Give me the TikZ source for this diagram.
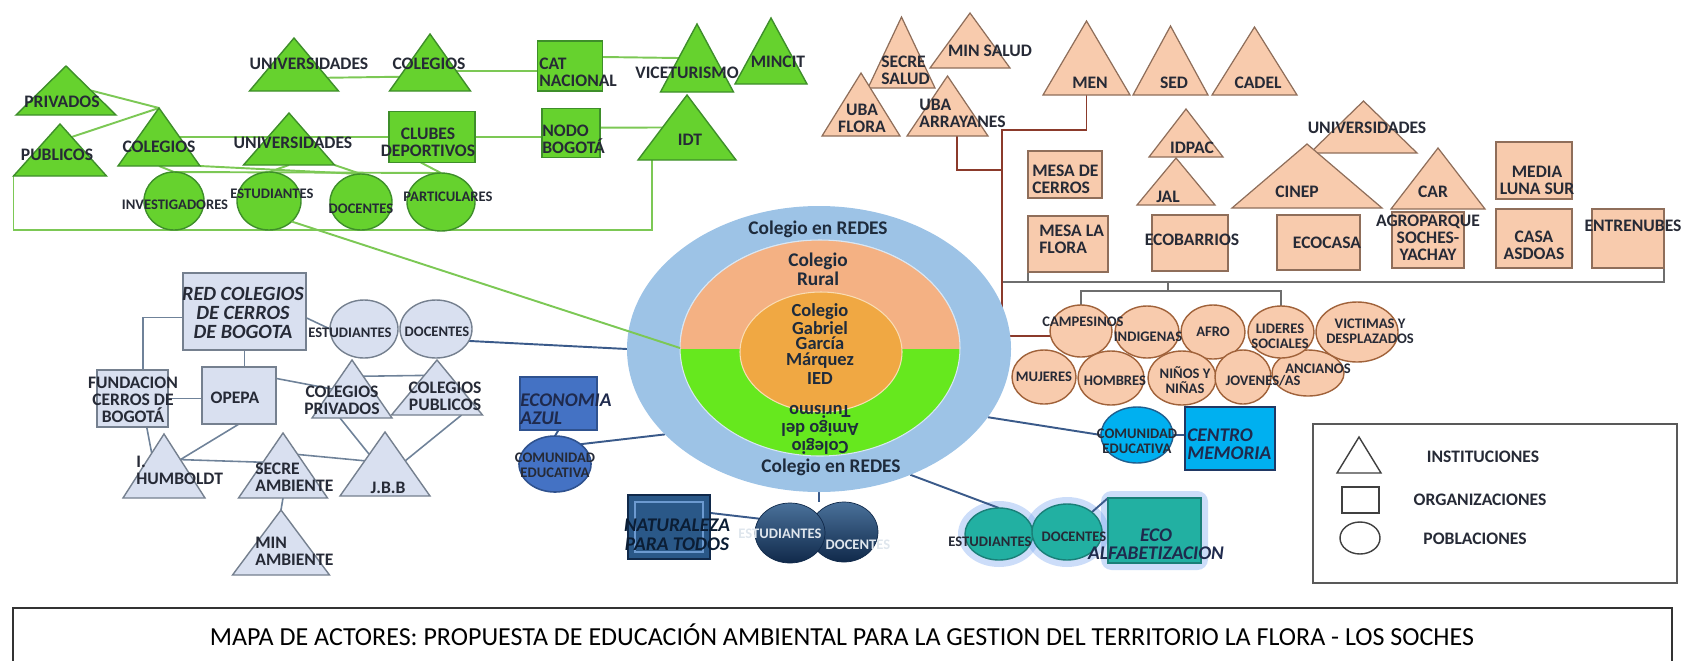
\documentclass[tikz,border=0pt]{standalone}
\usepackage{fontspec}
\setmainfont{Carlito}
\usetikzlibrary{shapes.geometric,calc,backgrounds}

\definecolor{gfill}{HTML}{66D22E}
\definecolor{gdraw}{HTML}{3E8E2A}
\definecolor{glc}{HTML}{7CC855}
\definecolor{pfill}{HTML}{F8CBAD}
\definecolor{pdraw}{HTML}{8F6E5A}
\definecolor{popdraw}{HTML}{A0623A}
\definecolor{brc}{HTML}{8B3A2B}
\definecolor{grc}{HTML}{6E6E6E}
\definecolor{lbfill}{HTML}{D9E0F0}
\definecolor{lbdraw}{HTML}{75808F}
\definecolor{llc}{HTML}{6F8299}
\definecolor{blc}{HTML}{3A5A8A}
\definecolor{outc}{HTML}{9DC3E6}
\definecolor{midt}{HTML}{F4B183}
\definecolor{midb}{HTML}{66E81E}
\definecolor{innc}{HTML}{F0A843}
\definecolor{dbf}{HTML}{4472C4}
\definecolor{dbd}{HTML}{2F528F}
\definecolor{navyf}{HTML}{2A5888}
\definecolor{navyd}{HTML}{10294A}
\definecolor{natin}{HTML}{6C9AD0}
\definecolor{cyf}{HTML}{00B0F0}
\definecolor{cyd}{HTML}{1F5F8F}
\definecolor{cmd}{HTML}{203864}
\definecolor{tlf}{HTML}{22B0A2}
\definecolor{tld}{HTML}{1A7F78}
\definecolor{glowc}{HTML}{7FAAF0}
\definecolor{txt}{HTML}{262A36}
\definecolor{ctxt}{HTML}{1E2B3C}
\definecolor{navytxt}{HTML}{1F2A4D}

\begin{document}
\begin{tikzpicture}[x=0.2mm, y=-0.2mm,
  sz/.style 2 args={minimum width=#1*0.2mm, minimum height=#2*0.2mm, inner sep=0pt, outer sep=0pt},
  tri/.style={isosceles triangle, isosceles triangle stretches, shape border rotate=90, anchor=lower side},
  ell/.style={ellipse},
  gsh/.style={draw=gdraw, fill=gfill, line width=.8pt},
  psh/.style={draw=pdraw, fill=pfill, line width=.7pt},
  ppop/.style={ellipse, draw=popdraw, fill=pfill, line width=.8pt},
  lsh/.style={draw=lbdraw, fill=lbfill, line width=.8pt},
  tsh/.style={draw=tld, fill=tlf, line width=.8pt},
  lab/.style={align=center, inner sep=0pt, text=txt, font=\fontsize{10}{9.8}\selectfont\bfseries},
  slab/.style={lab, font=\fontsize{8.3}{8.6}\selectfont\bfseries},
  ilab/.style={lab, text=navytxt, font=\fontsize{11}{10.5}\selectfont\bfseries\itshape},
  clab/.style={lab, text=ctxt, font=\fontsize{11}{9.4}\selectfont\bfseries},
  leglab/.style={lab, font=\fontsize{10}{10}\selectfont\bfseries},
  gln/.style={draw=glc, line width=1.1pt},
  lln/.style={draw=llc, line width=.9pt},
  bln/.style={draw=blc, line width=1.1pt},
  brl/.style={draw=brc, line width=1.1pt},
  grl/.style={draw=grc, line width=1pt}]
\useasboundingbox (0,0) rectangle (1685,660);
\clip (0,0) rectangle (1685,660);

% centro
\node[ell, sz={384}{286}, fill=outc] (out) at (819,349) {};
\node[ell, sz={280}{216}, fill=midb, draw=white!60!outc, line width=.6pt] (mid) at (820,348) {};
\begin{scope}
\clip (mid.west) rectangle (mid.north -| mid.east);
\node[ell, sz={280}{216}, fill=midt, draw=white!60!outc, line width=.6pt] (midtop) at (mid.center) {};
\end{scope}
\node[ell, sz={162}{120}, fill=innc, draw=white!60!innc, line width=.6pt] (inn) at (821,352) {};

% verde
\node[tri, gsh, sz={100}{49}] (privados) at (66,115) {};
\node[tri, gsh, sz={93}{52}] (publicos) at (60,176) {};
\node[tri, gsh, sz={82}{58}] (colegA) at (159,166) {};
\node[tri, gsh, sz={89}{53}] (univA) at (294,91) {};
\node[tri, gsh, sz={81}{57}] (colegB) at (430,91) {};
\node[tri, gsh, sz={91}{52}] (univB) at (289,165) {};
\node[tri, gsh, sz={73}{68}] (vice) at (697,92) {};
\node[tri, gsh, sz={72}{66}] (mincit) at (771,84) {};
\node[tri, gsh, sz={98}{65}] (idt) at (687,160) {};
\node[gsh, sz={86}{51}] (clubes) at (432,137) {};
\node[gsh, sz={65}{50}] (cat) at (570,66) {};
\node[gsh, sz={58}{49}] (nodo) at (571,133) {};
\node[ell, gsh, sz={60}{58}] (invest) at (174,201) {};
\node[ell, gsh, sz={64}{58}] (estud) at (269,201) {};
\node[ell, gsh, sz={62}{56}] (docen) at (361,202) {};
\node[ell, gsh, sz={68}{58}] (partic) at (441,202) {};

% durazno
\node[tri, psh, sz={67}{71}] (secsal) at (901.5,88) {};
\node[tri, psh, sz={80}{55}] (minsal) at (970,68) {};
\node[tri, psh, sz={78}{63}] (ubaflo) at (861,136) {};
\node[tri, psh, sz={81}{60}] (ubaarr) at (947.5,136) {};
\node[tri, psh, sz={87}{74}] (men) at (1086.5,95) {};
\node[tri, psh, sz={75}{69}] (sed) at (1170.5,95) {};
\node[tri, psh, sz={85}{68}] (cadel) at (1254.5,95) {};
\node[tri, psh, sz={74}{48}] (idpac) at (1186,157) {};
\node[tri, psh, sz={78}{47}] (jal) at (1176,205) {};
\node[tri, psh, sz={107}{52}] (univC) at (1363.5,153) {};
\node[tri, psh, sz={150}{64}] (cinep) at (1307,208) {};
\node[tri, psh, sz={94}{61}] (car) at (1438,209) {};
\node[psh, sz={74}{47}] (mesacer) at (1065,174.5) {};
\node[psh, sz={80}{56}] (mesaflo) at (1068,244) {};
\node[psh, sz={76}{56}] (ecobar) at (1190,243) {};
\node[psh, sz={83}{55}] (ecocasa) at (1318.5,242.5) {};
\node[psh, sz={72}{56}] (agro) at (1428,240) {};
\node[psh, sz={76}{57}] (media) at (1534,170.5) {};
\node[psh, sz={76}{59}] (casa) at (1534,238.5) {};
\node[psh, sz={72}{59}] (entre) at (1628,238.5) {};
\node[ppop, sz={72}{46}] (anc) at (1308,373) {};
\node[ppop, sz={62}{52}] (camp) at (1081,331) {};
\node[ppop, sz={64}{52}] (indi) at (1147,332) {};
\node[ppop, sz={64}{54}] (afro) at (1213,332) {};
\node[ppop, sz={66}{52}] (lider) at (1281,332) {};
\node[ppop, sz={82}{60}] (vict) at (1357,332) {};
\node[ppop, sz={64}{54}] (muj) at (1044,377) {};
\node[ppop, sz={66}{54}] (hom) at (1111,378) {};
\node[ppop, sz={68}{54}] (nin) at (1182,378) {};
\node[ppop, sz={56}{54}] (jov) at (1243,377) {};

% azul claro
\node[lsh, sz={123}{77}] (redcol) at (244.5,311.5) {};
\node[lsh, sz={71}{57}] (fund) at (132.5,398.5) {};
\node[lsh, sz={74}{57}] (opepa) at (239,395.5) {};
\node[ell, lsh, sz={68}{58}] (lbest) at (364,329) {};
\node[ell, lsh, sz={72}{58}] (lbdoc) at (436,329) {};
\node[tri, lsh, sz={80}{58}] (colpriv) at (352,418) {};
\node[tri, lsh, sz={91}{55}] (colpub) at (437,415) {};
\node[tri, lsh, sz={82}{64}] (humb) at (164,498) {};
\node[tri, lsh, sz={89}{65}] (secre) at (283,498) {};
\node[tri, lsh, sz={90}{64}] (jbb) at (385,496) {};
\node[tri, lsh, sz={97}{65}] (minamb) at (281,575) {};

% redes
\node[draw=dbd, fill=dbf, line width=.9pt, sz={77}{53}] (ecoaz) at (558.5,403.5) {};
\node[ell, draw=dbd, fill=dbf, line width=.9pt, sz={72}{56}] (comd) at (555,464) {};
\node[draw=navyd, fill=navyf, line width=1pt, sz={82}{64}] (nat) at (669,527) {};
\node[draw=natin, line width=1.2pt, sz={68}{50}] (natin) at (nat.center) {};
\node[ell, draw=navyd, top color=navyf!85!white, bottom color=navyd, sz={68}{60}] (ndo) at (844,532) {};
\node[ell, draw=navyd, top color=navyf!85!white, bottom color=navyd, sz={70}{60}] (nst) at (790,533) {};
\node[ell, draw=cyd, fill=cyf, line width=.8pt, sz={72}{56}] (comc) at (1137,435) {};
\node[draw=cmd, fill=cyf, line width=1.2pt, sz={90}{63}] (cmem) at (1230,438.5) {};
\node[ell, tsh, sz={68}{52}] (tst) at (999,534) {};
\node[ell, tsh, sz={70}{56}] (tdo) at (1067,532) {};
\node[tsh, sz={93}{65}] (eco) at (1154.5,530.5) {};

% leyenda y titulo
\node[draw=black!65, line width=1pt, fill=white, sz={364}{159}] (legend) at (1495,503.5) {};
\node[tri, draw=black!75, fill=white, line width=.8pt, sz={44}{36}] (ltri) at (1359,473) {};
\node[draw=black!75, line width=.8pt, sz={37}{26}] (lsq) at (1360.5,500) {};
\node[ell, draw=black!75, line width=.8pt, sz={40}{32}] (lcir) at (1360,538) {};
\node[draw=black!80, line width=1.3pt, sz={1659}{70}, anchor=north west] (titbox) at (13,608) {};

\begin{scope}[on background layer]
\node[ell, sz={82}{66}, fill=glowc, opacity=.4] (tstg) at (tst.center) {};
\node[ell, sz={84}{70}, fill=glowc, opacity=.4] (tdog) at (tdo.center) {};
\node[sz={107}{79}, fill=glowc, opacity=.4, rounded corners=6pt] (ecog) at (eco.center) {};
\draw[gln] (privados.right side) -- (colegA.apex);
\draw[gln] ($(publicos.apex)!.25!(publicos.right corner)$) -- (colegA.apex);
\draw[gln] (colegA.right side) -- (colegA.right side -| clubes.west);
\draw[gln] ($(univA.apex)!.75!(univA.right corner)$) -- ($(colegB.apex)!.75!(colegB.left corner)$);
\draw[gln] ($(colegB.apex)!.65!(colegB.right corner)$) coordinate (cb) -- (cb -| cat.west);
\draw[gln] ($(cat.north east)!.32!(cat.south east)$) -- (vice.left side);
\draw[gln] (clubes.east) -- (clubes.east -| nodo.west);
\draw[gln] ($(nodo.north east)!.39!(nodo.south east)$) -- (idt.left side);
\draw[gln] (colegA.lower side) -- (invest.north);
\draw[gln] (colegA.right corner) -- (docen.north);
\draw[gln] (univB.lower side) -- (estud.north);
\draw[gln] (univB.right corner) -- (docen.north);
\draw[gln] ($(clubes.south west)!.37!(clubes.south east)$) -- (partic.north);
\draw[gln] (invest.north) -- (partic.north);
\coordinate (gcorner) at (652,230);
\draw[gln] (publicos.left corner) |- (gcorner) -- (gcorner |- idt.lower side);
\draw[lln] ($(redcol.north west)!.58!(redcol.south west)$) -| ($(fund.north west)!.65!(fund.north east)$);
\draw[lln] (redcol.south) -- (redcol.south |- opepa.north);
\draw[lln] ($(redcol.north east)!.58!(redcol.south east)$) -- (lbest.west);
\draw[lln] (fund.east) -- (fund.east -| opepa.west);
\draw[lln] ($(opepa.north east)!.2!(opepa.south east)$) -- (colpriv.left side);
\draw[lln] ($(colpriv.apex)!.28!(colpriv.right corner)$) -- ($(colpub.apex)!.28!(colpub.left corner)$);
\draw[lln] ($(fund.south west)!.7!(fund.south east)$) -- ($(humb.apex)!.3!(humb.left corner)$);
\draw[lln] (opepa.south) -- ($(humb.apex)!.4!(humb.right corner)$);
\draw[lln] ($(humb.apex)!.4!(humb.right corner)$) -- ($(secre.apex)!.45!(secre.left corner)$);
\draw[lln] ($(secre.apex)!.33!(secre.right corner)$) -- ($(jbb.apex)!.45!(jbb.left corner)$);
\draw[lln] ($(colpriv.left corner)!.35!(colpriv.right corner)$) -- ($(jbb.apex)!.35!(jbb.left corner)$);
\draw[lln] ($(colpub.left corner)!.77!(colpub.right corner)$) -- ($(jbb.apex)!.45!(jbb.right corner)$);
\draw[lln] (secre.lower side) -- (minamb.apex);
\coordinate (pk) at (1002,130);
\coordinate (pk2) at (1002,170);
\coordinate (gl) at (1002,282);
\coordinate (pj) at (1168,291);
\draw[grl] (gl) -| (entre.south east);
\draw[grl] (mesaflo.south west) -- (mesaflo.south west |- gl);
\draw[grl] (pj |- gl) -- (pj);
\draw[grl] (camp.north) |- (pj) -| (lider.north);
\draw[brl] (men.lower side) |- (pk) |- (mid.5);
\draw[brl] (mid.5) -- (mid.5 -| camp.west);
\draw[brl] ($(ubaarr.left corner)!.62!(ubaarr.right corner)$) |- (pk2);
\draw[bln] (lbdoc.-20) -- (out.west);
\draw[bln] (out.-22) -- (comc.west);
\draw[bln] (comc.east) -- (comc.east -| cmem.west);
\draw[bln] (out.-54) -- (tst.north);
\draw[bln] (tdo.north east) -- (eco.north west);
\draw[bln] (ecoaz.south) -- (comd.north);
\draw[bln] (comd.north east) -- (out.-151);
\draw[bln] ($(nat.north east)!.28!(nat.south east)$) -- (nst.155);
\draw[bln] (out.south) -- (out.south |- ndo.north);
\end{scope}
\draw[gln] (estud.south east) -- (mid.west);

% textos
\node[clab] (redesA) at (818,229) {Colegio en REDES};
\node[clab] (redesB) at (831,467) {Colegio en REDES};
\node[clab] (rural) at (818,269) {Colegio\\Rural};
\node[clab, font=\fontsize{10.5}{8.9}\selectfont\bfseries] (ggm) at (820,336) {Colegio\\Gabriel\\García\\Márquez};
\node[clab, font=\fontsize{10.5}{8.9}\selectfont\bfseries] (ied) at (820,379) {IED};
\node[clab, font=\fontsize{10.5}{8.9}\selectfont\bfseries, rotate=180] (amigo) at (820,430) {Colegio\\Amigo del\\Turismo};

\node[lab] (lprivados) at (62,102) {PRIVADOS};
\node[lab] (lpublicos) at (57,155) {PUBLICOS};
\node[lab] (lcolegA) at (159,147) {COLEGIOS};
\node[lab] (lunivA) at (309,64) {UNIVERSIDADES};
\node[lab] (lcolegB) at (429,64) {COLEGIOS};
\node[lab] (lunivB) at (293,143) {UNIVERSIDADES};
\node[lab] (lclubes) at (428,142) {CLUBES\\DEPORTIVOS};
\node[lab, align=left, anchor=west] (lcat) at (539,72) {CAT\\NACIONAL};
\node[lab, align=left, anchor=west] (lnodo) at (542,139) {NODO\\BOGOTÁ};
\node[lab] (lvice) at (687,73) {VICETURISMO};
\node[lab] (lmincit) at (778,62) {MINCIT};
\node[lab] (lidt) at (690,140) {IDT};
\node[slab] (linvest) at (175,205) {INVESTIGADORES};
\node[slab] (lestud) at (272,194) {ESTUDIANTES};
\node[slab] (ldocen) at (361,209) {DOCENTES};
\node[slab] (lpartic) at (448,197) {PARTICULARES};

\node[lab, align=left, anchor=west] (lsecsal) at (881,70) {SECRE\\SALUD};
\node[lab] (lminsal) at (990,51) {MIN SALUD};
\node[lab] (lubaflo) at (862,118) {UBA\\FLORA};
\node[lab, align=left, anchor=west] (lubaarr) at (919,113) {UBA\\ARRAYANES};
\node[lab] (lmen) at (1090,83) {MEN};
\node[lab] (lsed) at (1174,83) {SED};
\node[lab] (lcadel) at (1258,83) {CADEL};
\node[lab] (lidpac) at (1192,148) {IDPAC};
\node[lab] (ljal) at (1168,197) {JAL};
\node[lab] (lcinep) at (1297,192) {CINEP};
\node[lab] (lunivC) at (1367,128) {UNIVERSIDADES};
\node[lab] (lcar) at (1433,192) {CAR};
\node[lab, align=left, anchor=west] (lmesacer) at (1032,179) {MESA DE\\CERROS};
\node[lab, align=left, anchor=west] (lmesaflo) at (1039,239) {MESA LA\\FLORA};
\node[lab] (lecobar) at (1192,240) {ECOBARRIOS};
\node[lab] (lecocasa) at (1327,243) {ECOCASA};
\node[lab] (lagro) at (1428,238) {AGROPARQUE\\SOCHES-\\YACHAY};
\node[lab] (lmedia) at (1537,180) {MEDIA\\LUNA SUR};
\node[lab] (lcasa) at (1534,245) {CASA\\ASDOAS};
\node[lab] (lentre) at (1633,226) {ENTRENUBES};
\node[slab] (lcamp) at (1083,322) {CAMPESINOS};
\node[slab] (lindi) at (1148,337) {INDIGENAS};
\node[slab] (lafro) at (1213,332) {AFRO};
\node[slab] (llider) at (1280,336) {LIDERES\\SOCIALES};
\node[slab] (lvict) at (1370,331) {VICTIMAS Y\\DESPLAZADOS};
\node[slab] (lmuj) at (1044,377) {MUJERES};
\node[slab] (lhom) at (1115,381) {HOMBRES};
\node[slab] (lnin) at (1185,380) {NIÑOS Y\\NIÑAS};
\node[slab] (ljov) at (1263,381) {JOVENES/AS};
\node[slab] (lanc) at (1318,369) {ANCIANOS};

\node[ilab, text=txt, font=\fontsize{11.5}{10.6}\selectfont\bfseries\itshape] (lredcol) at (243,313) {RED COLEGIOS\\DE CERROS\\DE BOGOTA};
\node[slab] (llbest) at (350,333) {ESTUDIANTES};
\node[slab] (llbdoc) at (437,332) {DOCENTES};
\node[lab] (lfund) at (133,400) {FUNDACION\\CERROS DE\\BOGOTÁ};
\node[lab] (lopepa) at (235,398) {OPEPA};
\node[lab] (lcolpriv) at (342,400) {COLEGIOS\\PRIVADOS};
\node[lab] (lcolpub) at (445,396) {COLEGIOS\\PUBLICOS};
\node[lab, align=left, anchor=west] (lhumb) at (136,470) {I.\\HUMBOLDT};
\node[lab, align=left, anchor=west] (lsecre) at (255,477) {SECRE\\AMBIENTE};
\node[lab] (ljbb) at (388,488) {J.B.B};
\node[lab, align=left, anchor=west] (lminamb) at (255,551) {MIN\\AMBIENTE};

\node[ilab, align=left, anchor=west] (lecoaz) at (520,409) {ECONOMIA\\ AZUL};
\node[slab] (lcomd) at (555,465) {COMUNIDAD\\EDUCATIVA};
\node[ilab, text=navyd!70!black] (lnat) at (677,535) {NATURALEZA\\PARA TODOS};
\node[slab, text=white!85!navyf] (lnst) at (780,534) {ESTUDIANTES};
\node[slab, text=white!85!navyf] (lndo) at (858,545) {DOCENTES};
\node[slab] (lcomc) at (1137,441) {COMUNIDAD\\EDUCATIVA};
\node[ilab, align=left, anchor=west] (lcmem) at (1187,444) {CENTRO\\MEMORIA};
\node[slab] (ltst) at (990,542) {ESTUDIANTES};
\node[slab] (ltdo) at (1074,537) {DOCENTES};
\node[ilab] (leco) at (1156,544) {ECO\\ALFABETIZACION};

\node[leglab] (linst) at (1483,457) {INSTITUCIONES};
\node[leglab] (lorg) at (1480,500) {ORGANIZACIONES};
\node[leglab] (lpob) at (1475,539) {POBLACIONES};
\node[lab, font=\fontsize{14.8}{16}\selectfont, text=black] (titulo) at (842,635) {MAPA DE ACTORES: PROPUESTA DE EDUCACIÓN AMBIENTAL PARA LA GESTION DEL TERRITORIO LA FLORA - LOS SOCHES};
\end{tikzpicture}
\end{document}
